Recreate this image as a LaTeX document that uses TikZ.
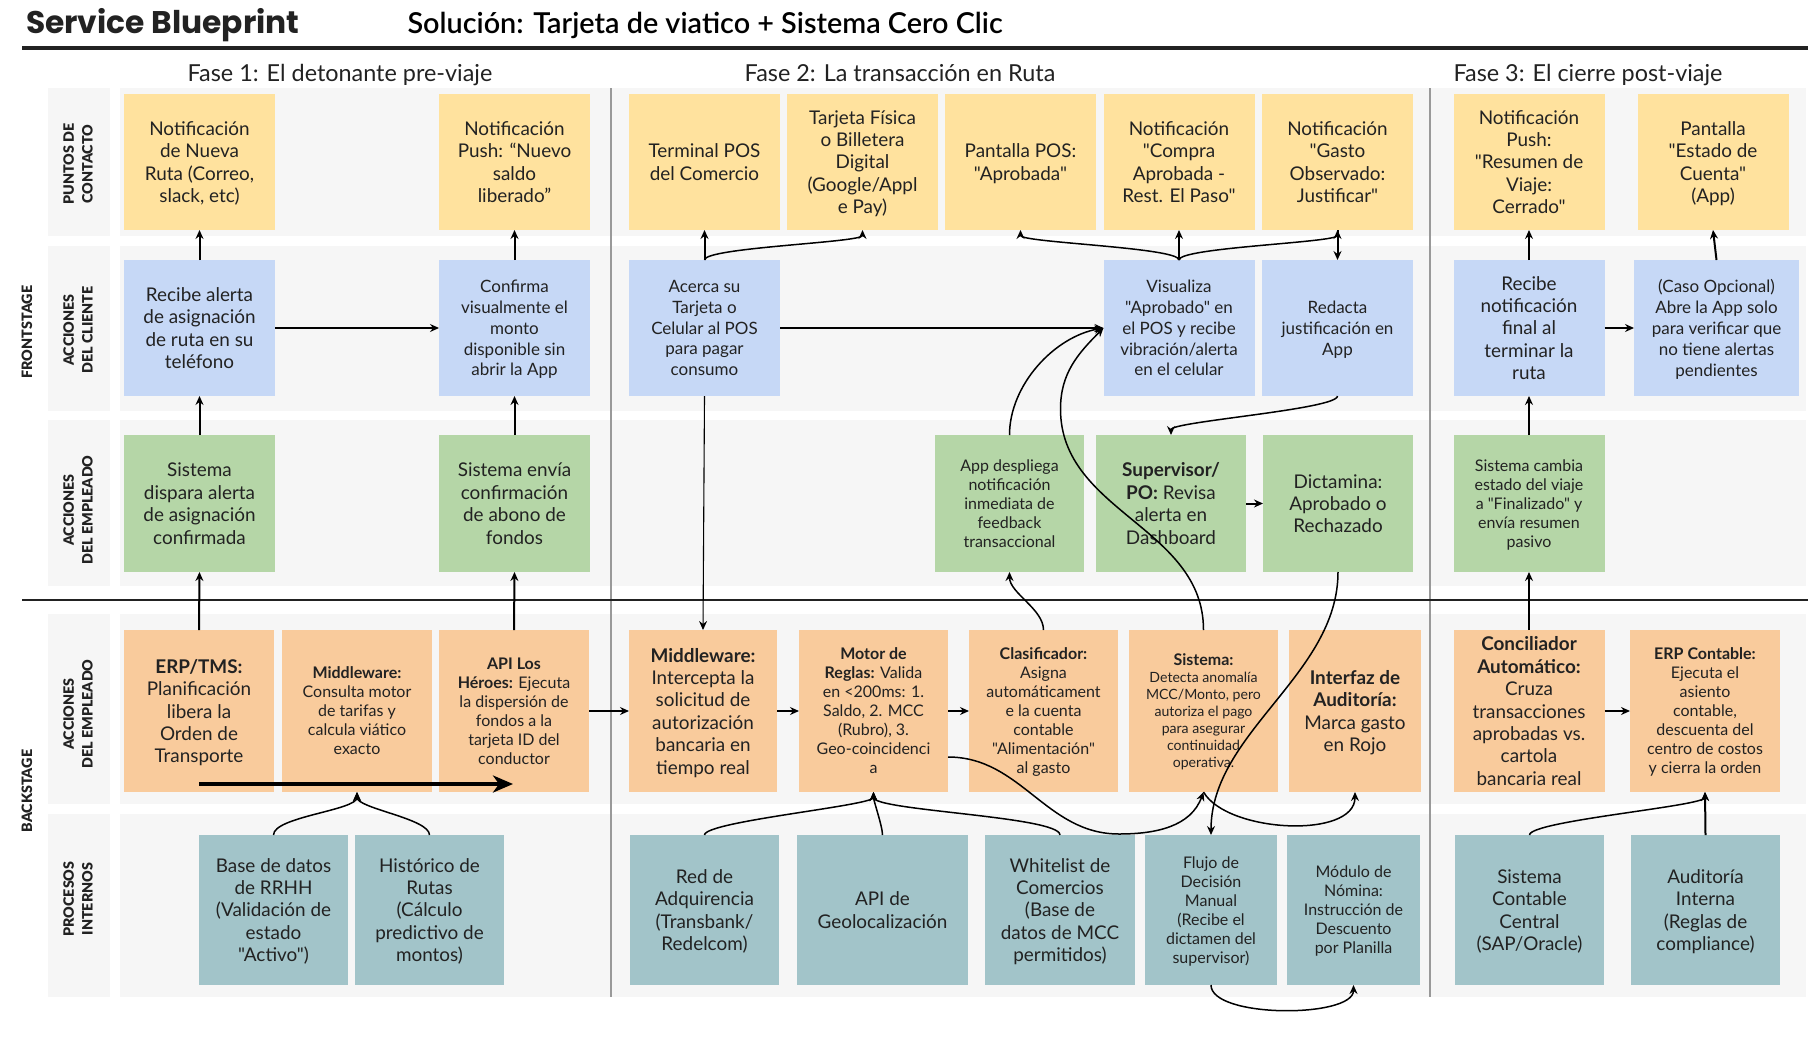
\documentclass[tikz,border=0pt]{standalone}
\usepackage{fontspec}
\usepackage{xcolor}
\setmainfont{Lato}[Ligatures=TeXOff]
\newfontfamily\titulofont{Poppins}
\newfontfamily\subtitulofont{Lato Semibold}
\newfontfamily\rotulofont{Lato Black}
\usepackage{tikz}
\usetikzlibrary{arrows.meta, positioning}

\definecolor{carrilgris}{HTML}{F6F6F6}
\definecolor{lineagris}{HTML}{999999}
\definecolor{tinta}{HTML}{222222}
\definecolor{amarillo}{HTML}{FFE29E}
\definecolor{celeste}{HTML}{C6D8F6}
\definecolor{verde}{HTML}{B5D6A7}
\definecolor{naranja}{HTML}{F9CB9C}
\definecolor{petroleo}{HTML}{A2C4C9}

\newcommand{\tamGrande}{\fontsize{18.9}{22.4}\selectfont}
\newcommand{\tamMedio}{\fontsize{17}{20.8}\selectfont}
\newcommand{\tamChico}{\fontsize{16}{19}\selectfont}
\newcommand{\tamMini}{\fontsize{14.1}{17}\selectfont}

\tikzset{
    bloque/.style={inner sep=0pt, outer sep=0pt, minimum width=151pt, align=center, text=tinta, font=\tamGrande, text depth=0pt},
    puntos/.style={bloque, fill=amarillo, minimum height=136pt},
    cliente/.style={bloque, fill=celeste, minimum height=136pt},
    empleado/.style={bloque, fill=verde, minimum height=137pt},
    sistema/.style={bloque, fill=naranja, minimum height=162pt},
    interno/.style={bloque, fill=petroleo, minimum height=150pt},
    carril/.style={fill=carrilgris},
    rotulo/.style={rotate=90, align=center, text=tinta, font=\fontsize{14.3}{18.6}\selectfont\rotulofont},
    fase/.style={anchor=base, text=tinta, font=\fontsize{23.4}{28}\selectfont},
    flecha/.style={-{Stealth[length=9pt, width=8pt, inset=3pt]}, line width=2pt, black},
    curva/.style={flecha, line width=1.5pt}
}

\begin{document}
\begin{tikzpicture}[x=1pt, y=-1pt]
    \useasboundingbox (0,0) rectangle (1815,1039);

    \fill [carril] (47.5,88) rectangle (110,236);
    \fill [carril] (47.5,246) rectangle (110,411);
    \fill [carril] (47.5,420) rectangle (110,586);
    \fill [carril] (47.5,614) rectangle (110,804);
    \fill [carril] (47.5,814) rectangle (110,997);
    \fill [carril] (119.5,88) rectangle (1806,236);
    \fill [carril] (119.5,246) rectangle (1806,411);
    \fill [carril] (119.5,420) rectangle (1806,586);
    \fill [carril] (119.5,614) rectangle (1806,804);
    \fill [carril] (119.5,814) rectangle (1806,997);

    \draw [lineagris, line width=1.8pt] (611,88) -- (611,997);
    \draw [lineagris, line width=1.8pt] (1430,88) -- (1430,997);
    \draw [tinta, line width=4pt] (22,47.5) -- (1808,47.5);
    \draw [tinta, line width=1.4pt] (22,600) -- (1808,600);

    \node (titulo) [anchor=base west, text=tinta, font=\fontsize{31.3}{36}\selectfont\titulofont\bfseries] at (22.5,33) {Service Blueprint};
    \node (solucion) [anchor=base west, text=black, font=\fontsize{28.8}{32}\selectfont\subtitulofont] at (404,33) {Solución: Tarjeta de viatico + Sistema Cero Clic};
    \node (fase1) [fase] at (340,81) {Fase 1: El detonante pre-viaje};
    \node (fase2) [fase] at (900,81) {Fase 2: La transacción en Ruta};
    \node (fase3) [fase] at (1588,81) {Fase 3: El cierre post-viaje};

    \node (frontstage) [rotulo] at (27,332) {FRONTSTAGE};
    \node (backstage) [rotulo] at (27,791) {BACKSTAGE};
    \node (rotPuntos) [rotulo] at (78,164) {PUNTOS DE\\CONTACTO};
    \node (rotCliente) [rotulo] at (78,330) {ACCIONES\\DEL CLIENTE};
    \node (rotEmpleado) [rotulo] at (78,510) {ACCIONES\\DEL EMPLEADO};
    \node (rotSistema) [rotulo] at (78,714) {ACCIONES\\DEL EMPLEADO};
    \node (rotInterno) [rotulo] at (78,899) {PROCESOS\\INTERNOS};

    \node (notifRuta) [puntos] at (199.5,162) {Notificación\\de Nueva\\Ruta (Correo,\\slack, etc)};
    \node (notifSaldo) [puntos] at (514.5,162) {Notificación\\Push: “Nuevo\\saldo\\liberado”};
    \node (terminal) [puntos] at (704.5,162) {Terminal POS\\del Comercio};
    \node (tarjeta) [puntos] at (862.5,162) {Tarjeta Física\\o Billetera\\Digital\\(Google/Appl\\e Pay)};
    \node (pantallaPos) [puntos] at (1020.5,162) {Pantalla POS:\\"Aprobada"};
    \node (notifCompra) [puntos] at (1179,162) {Notificación\\"Compra\\Aprobada -\\Rest. El Paso"};
    \node (notifGasto) [puntos] at (1337.5,162) {Notificación\\"Gasto\\Observado:\\Justificar"};
    \node (notifResumen) [puntos] at (1529,162) {Notificación\\Push:\\"Resumen de\\Viaje:\\Cerrado"};
    \node (pantallaCuenta) [puntos] at (1713,162) {Pantalla\\"Estado de\\Cuenta"\\(App)};

    \node (recibeAlerta) [cliente] at (199.5,328) {Recibe alerta\\de asignación\\de ruta en su\\teléfono};
    \node (confirma) [cliente, font=\tamMedio] at (514.5,328) {Confirma\\visualmente el\\monto\\disponible sin\\abrir la App};
    \node (acerca) [cliente, font=\tamMedio] at (704.5,328) {Acerca su\\Tarjeta o\\Celular al POS\\para pagar\\consumo};
    \node (visualiza) [cliente, font=\tamMedio] at (1179,328) {Visualiza\\"Aprobado" en\\el POS y recibe\\vibración/alerta\\en el celular};
    \node (redacta) [cliente, font=\tamMedio] at (1337.5,328) {Redacta\\justificación en\\App};
    \node (recibeFinal) [cliente] at (1529,328) {Recibe\\notificación\\final al\\terminar la\\ruta};
    \node (caso) [cliente, font=\tamMedio, minimum width=165pt] at (1716.5,328) {(Caso Opcional)\\Abre la App solo\\para verificar que\\no tiene alertas\\pendientes};

    \node (disparaAlerta) [empleado] at (199.5,503.5) {Sistema\\dispara alerta\\de asignación\\confirmada};
    \node (enviaAbono) [empleado] at (514.5,503.5) {Sistema envía\\confirmación\\de abono de\\fondos};
    \node (appDespliega) [empleado, font=\tamChico, minimum width=149pt] at (1009.5,503.5) {App despliega\\notificación\\inmediata de\\feedback\\transaccional};
    \node (supervisor) [empleado, minimum width=150pt] at (1171,503.5) {\textbf{Supervisor/}\\\textbf{PO:} Revisa\\alerta en\\Dashboard};
    \node (dictamina) [empleado, minimum width=150pt] at (1338,503.5) {Dictamina:\\Aprobado o\\Rechazado};
    \node (cambiaEstado) [empleado, font=\tamChico] at (1529,503.5) {Sistema cambia\\estado del viaje\\a "Finalizado" y\\envía resumen\\pasivo};

    \node (erpTms) [sistema, minimum width=150pt] at (199,711) {\textbf{ERP/TMS:}\\Planificación\\libera la\\Orden de\\Transporte};
    \node (middlewareTarifa) [sistema, font=\tamChico, minimum width=150pt] at (357,711) {\textbf{Middleware:}\\Consulta motor\\de tarifas y\\calcula viático\\exacto};
    \node (apiHeroes) [sistema, font=\tamChico, minimum width=150pt] at (514,711) {\textbf{API Los}\\\textbf{Héroes:} Ejecuta\\la dispersión de\\fondos a la\\tarjeta ID del\\conductor};
    \node (middlewarePos) [sistema, minimum width=148pt] at (703,711) {\textbf{Middleware:}\\Intercepta la\\solicitud de\\autorización\\bancaria en\\tiempo real};
    \node (motorReglas) [sistema, font=\tamChico, minimum width=149pt] at (873.5,711) {\textbf{Motor de}\\\textbf{Reglas:} Valida\\en <200ms: 1.\\Saldo, 2. MCC\\(Rubro), 3.\\Geo-coincidenci\\a};
    \node (clasificador) [sistema, font=\tamChico, minimum width=149pt] at (1043.5,711) {\textbf{Clasificador:}\\Asigna\\automáticament\\e la cuenta\\contable\\"Alimentación"\\al gasto};
    \node (sistemaAnomalia) [sistema, font=\tamMini, minimum width=149pt] at (1203.5,711) {{\tamChico\textbf{Sistema:}}\\Detecta anomalía\\MCC/Monto, pero\\autoriza el pago\\para asegurar\\continuidad\\operativa.};
    \node (interfaz) [sistema, minimum width=132pt] at (1355,711) {\textbf{Interfaz de}\\\textbf{Auditoría:}\\Marca gasto\\en Rojo};
    \node (conciliador) [sistema] at (1529,711) {\textbf{Conciliador}\\\textbf{Automático:}\\Cruza\\transacciones\\aprobadas vs.\\cartola\\bancaria real};
    \node (erpContable) [sistema, font=\tamChico, minimum width=150pt] at (1705,711) {\textbf{ERP Contable:}\\Ejecuta el\\asiento\\contable,\\descuenta del\\centro de costos\\y cierra la orden};

    \node (baseRrhh) [interno, minimum width=149pt] at (273.5,910) {Base de datos\\de RRHH\\(Validación de\\estado\\"Activo")};
    \node (historico) [interno, minimum width=149pt] at (429.5,910) {Histórico de\\Rutas\\(Cálculo\\predictivo de\\montos)};
    \node (redAdq) [interno, minimum width=149pt] at (704.5,910) {Red de\\Adquirencia\\(Transbank/\\Redelcom)};
    \node (apiGeo) [interno, minimum width=171pt] at (882.5,910) {API de\\Geolocalización};
    \node (whitelist) [interno, minimum width=150pt] at (1060,910) {Whitelist de\\Comercios\\(Base de\\datos de MCC\\permitidos)};
    \node (flujo) [interno, font=\tamChico, minimum width=132pt] at (1211,910) {Flujo de\\Decisión\\Manual\\(Recibe el\\dictamen del\\supervisor)};
    \node (modulo) [interno, font=\tamChico, minimum width=133pt] at (1353.5,910) {Módulo de\\Nómina:\\Instrucción de\\Descuento\\por Planilla};
    \node (contableCentral) [interno, minimum width=149pt] at (1529.5,910) {Sistema\\Contable\\Central\\(SAP/Oracle)};
    \node (auditoria) [interno, minimum width=149pt] at (1705.5,910) {Auditoría\\Interna\\(Reglas de\\compliance)};

    \coordinate (ordenIni) at (199,784);
    \coordinate (ordenFin) at (513,784);
    \coordinate (sistemaVuelta) at (1060.5,409);
    \coordinate (motorBajo) at (1119,834);
    \coordinate (motorSale) at (948,757);

    \path [flecha]
    (recibeAlerta.north) edge (notifRuta.south)
    (confirma.north) edge (notifSaldo.south)
    (recibeAlerta.east) edge (confirma.west)
    (disparaAlerta.north) edge (recibeAlerta.south)
    (enviaAbono.north) edge (confirma.south)
    (erpTms.north) edge (disparaAlerta.south)
    (apiHeroes.north) edge (enviaAbono.south)
    (apiHeroes.east) edge (middlewarePos.west)
    (middlewarePos.east) edge (motorReglas.west)
    (motorReglas.east) edge (clasificador.west)
    (acerca.north) edge (terminal.south)
    (acerca.east) edge (visualiza.west)
    (visualiza.north) edge (notifCompra.south)
    (notifGasto.south) edge (redacta.north)
    (supervisor.east) edge (dictamina.west)
    (recibeFinal.north) edge (notifResumen.south)
    (caso.north) edge (pantallaCuenta.south)
    (recibeFinal.east) edge (caso.west)
    (cambiaEstado.north) edge (recibeFinal.south)
    (conciliador.north) edge (cambiaEstado.south)
    (conciliador.east) edge (erpContable.west)
    (auditoria.north) edge (erpContable.south);

    \path [curva]
    (acerca.south) edge[line width=1.1pt] (middlewarePos.north)
    (acerca.north) edge[out=90, in=-90, looseness=0.2] (tarjeta.south)
    (visualiza.north) edge[out=90, in=-90, looseness=0.2] (pantallaPos.south)
    (visualiza.north) edge[out=90, in=-90, looseness=0.2] (notifGasto.south)
    (redacta.south) edge[out=-90, in=90, looseness=0.2] (supervisor.north)
    (appDespliega.north) edge[out=90, in=190, looseness=0.9] (visualiza.west)
    (clasificador.north) edge[out=90, in=-90, looseness=0.8] (appDespliega.south)
    (dictamina.south) edge[out=-90, in=90, looseness=0.9] (flujo.north)
    (baseRrhh.north) edge[out=90, in=-90, looseness=0.5] (middlewareTarifa.south)
    (historico.north) edge[out=90, in=-90, looseness=0.5] (middlewareTarifa.south)
    (redAdq.north) edge[out=90, in=-90, looseness=0.2] (motorReglas.south)
    (apiGeo.north) edge[out=90, in=-90, looseness=0.5] (motorReglas.south)
    (whitelist.north) edge[out=90, in=-90, looseness=0.25] (motorReglas.south)
    (sistemaAnomalia.south) edge[out=-60, in=-90, looseness=0.8] (interfaz.south)
    (flujo.south) edge[out=-90, in=-90, looseness=0.6] (modulo.south)
    (contableCentral.north) edge[out=90, in=-90, looseness=0.2] (erpContable.south);

    \draw [curva] (sistemaAnomalia.north) to[out=90, in=-90] (sistemaVuelta) to[out=90, in=225] (visualiza.west);
    \draw [curva] (motorSale) to[out=0, in=180] (motorBajo) to[out=0, in=-110] (sistemaAnomalia.south);
    \draw [flecha, line width=4pt, -{Stealth[length=20pt, width=17pt, inset=6pt]}] (ordenIni) -- (ordenFin);
\end{tikzpicture}
\end{document}
